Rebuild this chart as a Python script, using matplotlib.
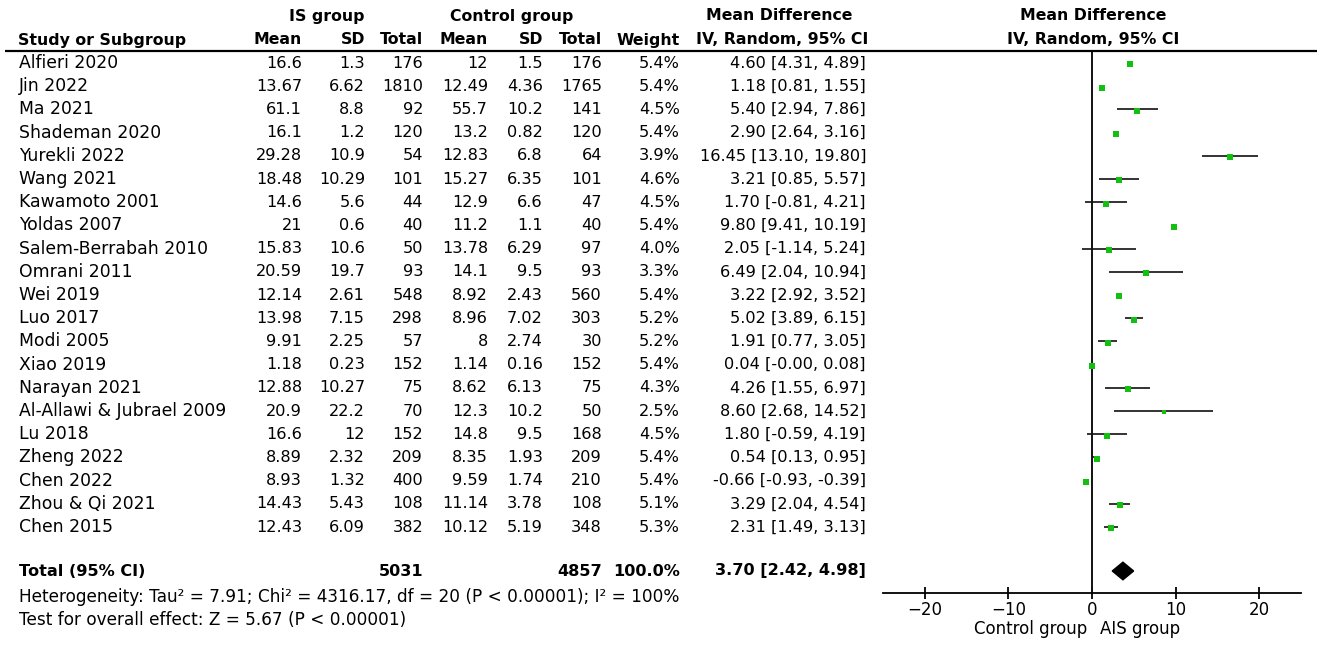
import matplotlib.pyplot as plt
from matplotlib.patches import Polygon

plt.rcParams['font.family'] = ['DejaVu Sans']
plt.rcParams['font.size'] = 11.6

# ---- data ----
studies = ['Alfieri 2020', 'Jin 2022', 'Ma 2021', 'Shademan 2020', 'Yurekli 2022',
           'Wang 2021', 'Kawamoto 2001', 'Yoldas 2007', 'Salem-Berrabah 2010',
           'Omrani 2011', 'Wei 2019', 'Luo 2017', 'Modi 2005', 'Xiao 2019',
           'Narayan 2021', 'Al-Allawi & Jubrael 2009', 'Lu 2018', 'Zheng 2022',
           'Chen 2022', 'Zhou & Qi 2021', 'Chen 2015']
is_mean = ['16.6', '13.67', '61.1', '16.1', '29.28', '18.48', '14.6', '21', '15.83',
           '20.59', '12.14', '13.98', '9.91', '1.18', '12.88', '20.9', '16.6', '8.89',
           '8.93', '14.43', '12.43']
is_sd = ['1.3', '6.62', '8.8', '1.2', '10.9', '10.29', '5.6', '0.6', '10.6', '19.7',
         '2.61', '7.15', '2.25', '0.23', '10.27', '22.2', '12', '2.32', '1.32', '5.43',
         '6.09']
is_total = [176, 1810, 92, 120, 54, 101, 44, 40, 50, 93, 548, 298, 57, 152, 75, 70,
            152, 209, 400, 108, 382]
ct_mean = ['12', '12.49', '55.7', '13.2', '12.83', '15.27', '12.9', '11.2', '13.78',
           '14.1', '8.92', '8.96', '8', '1.14', '8.62', '12.3', '14.8', '8.35', '9.59',
           '11.14', '10.12']
ct_sd = ['1.5', '4.36', '10.2', '0.82', '6.8', '6.35', '6.6', '1.1', '6.29', '9.5',
         '2.43', '7.02', '2.74', '0.16', '6.13', '10.2', '9.5', '1.93', '1.74', '3.78',
         '5.19']
ct_total = [176, 1765, 141, 120, 64, 101, 47, 40, 97, 93, 560, 303, 30, 152, 75, 50,
            168, 209, 210, 108, 348]
weights = [5.4, 5.4, 4.5, 5.4, 3.9, 4.6, 4.5, 5.4, 4.0, 3.3, 5.4, 5.2, 5.2, 5.4, 4.3,
           2.5, 4.5, 5.4, 5.4, 5.1, 5.3]
md = [4.60, 1.18, 5.40, 2.90, 16.45, 3.21, 1.70, 9.80, 2.05, 6.49, 3.22, 5.02, 1.91,
      0.04, 4.26, 8.60, 1.80, 0.54, -0.66, 3.29, 2.31]
ci_lo = [4.31, 0.81, 2.94, 2.64, 13.10, 0.85, -0.81, 9.41, -1.14, 2.04, 2.92, 3.89,
         0.77, -0.00, 1.55, 2.68, -0.59, 0.13, -0.93, 2.04, 1.49]
ci_hi = [4.89, 1.55, 7.86, 3.16, 19.80, 5.57, 4.21, 10.19, 5.24, 10.94, 3.52, 6.15,
         3.05, 0.08, 6.97, 14.52, 4.19, 0.95, -0.39, 4.54, 3.13]
ci_lo_txt = ['4.31', '0.81', '2.94', '2.64', '13.10', '0.85', '-0.81', '9.41', '-1.14',
             '2.04', '2.92', '3.89', '0.77', '-0.00', '1.55', '2.68', '-0.59', '0.13',
             '-0.93', '2.04', '1.49']
total_md, total_lo, total_hi = 3.70, 2.42, 4.98
heterogeneity = 'Heterogeneity: Tau² = 7.91; Chi² = 4316.17, df = 20 (P < 0.00001); I² = 100%'
overall = 'Test for overall effect: Z = 5.67 (P < 0.00001)'
xticks = [-20, -10, 0, 10, 20]

# ---- layout (pixels) ----
W, H = 1325, 648
ROW0, STEP = 63, 23.2
TOTAL_Y = 571
AX_TOP, AX_BOT, AX_L, AX_R = 52, 593, 883, 1301
LEFT = 19
LABEL_FS = 12.4
HEAD_FS = 11.3
col_x = [302, 365, 423, 488, 543, 602, 680, 866]

fig = plt.figure(figsize=(W / 100, H / 100), dpi=100)
canvas = fig.add_axes([0, 0, 1, 1])
canvas.set_xlim(0, W)
canvas.set_ylim(H, 0)
canvas.axis('off')

# headers
bold = dict(va='center', fontweight='bold', fontsize=HEAD_FS)
canvas.text(327, 17, 'IS group', ha='center', **bold)
canvas.text(512, 17, 'Control group', ha='center', **bold)
canvas.text(779, 16, 'Mean Difference', ha='center', **bold)
canvas.text(1093, 16, 'Mean Difference', ha='center', **bold)
canvas.text(LEFT - 1, 40, 'Study or Subgroup', ha='left', **bold)
for x, lab in zip(col_x, ['Mean', 'SD', 'Total', 'Mean', 'SD', 'Total', 'Weight']):
    canvas.text(x, 40, lab, ha='right', **bold)
canvas.text(782, 40, 'IV, Random, 95% CI', ha='center', **bold)
canvas.text(1093, 40, 'IV, Random, 95% CI', ha='center', **bold)
canvas.plot([5, 1317], [51, 51], color='black', lw=1.6, solid_capstyle='butt')

# study rows
for i, name in enumerate(studies):
    y = ROW0 + i * STEP
    canvas.text(LEFT, y, name, ha='left', va='center', fontsize=LABEL_FS)
    vals = [is_mean[i], is_sd[i], str(is_total[i]), ct_mean[i], ct_sd[i],
            str(ct_total[i]), '%.1f%%' % weights[i],
            '%.2f [%s, %.2f]' % (md[i], ci_lo_txt[i], ci_hi[i])]
    for x, v in zip(col_x, vals):
        canvas.text(x, y, v, ha='right', va='center')

# total row
canvas.text(LEFT, TOTAL_Y, 'Total (95% CI)', ha='left', va='center', fontweight='bold')
tot_vals = [(col_x[2], str(sum(is_total))), (col_x[5], str(sum(ct_total))),
            (col_x[6], '%.1f%%' % 100.0),
            (col_x[7], '%.2f [%.2f, %.2f]' % (total_md, total_lo, total_hi))]
for x, v in tot_vals:
    canvas.text(x, TOTAL_Y, v, ha='right', va='center', fontweight='bold')
canvas.text(LEFT, 597, heterogeneity, ha='left', va='center', fontsize=12.2)
canvas.text(LEFT, 620, overall, ha='left', va='center', fontsize=12.2)

# forest plot
ax = fig.add_axes([AX_L / W, 1 - AX_BOT / H, (AX_R - AX_L) / W, (AX_BOT - AX_TOP) / H])
ax.patch.set_visible(False)
ax.set_xlim(-25, 25)
ax.set_ylim((AX_BOT - ROW0) / STEP, (AX_TOP - ROW0) / STEP)
for s in ['top', 'left', 'right']:
    ax.spines[s].set_visible(False)
ax.spines['bottom'].set_linewidth(1.3)
ax.set_yticks([])
ax.set_xticks(xticks)
ax.tick_params(axis='x', direction='inout', length=8, width=1.3, labelsize=12, pad=1.5)
ax.axvline(0, color='#111111', lw=1.4)

for i in range(len(studies)):
    ax.plot([ci_lo[i], ci_hi[i]], [i, i], color='#111111', lw=1.2, solid_capstyle='butt')
    ax.plot(md[i], i + 0.06, marker='s', color='#12c012', markersize=3.0 + 0.2 * weights[i],
            markeredgewidth=0, zorder=3)

ty = (TOTAL_Y - ROW0) / STEP
dh = 0.38
ax.add_patch(Polygon([[total_lo, ty], [total_md, ty - dh], [total_hi, ty], [total_md, ty + dh]],
                     closed=True, facecolor='black', edgecolor='black'))

canvas.text(1087, 629, 'Control group', ha='right', va='center', fontsize=12)
canvas.text(1100, 629, 'AIS group', ha='left', va='center', fontsize=12)

plt.savefig('out.png', dpi=100)
